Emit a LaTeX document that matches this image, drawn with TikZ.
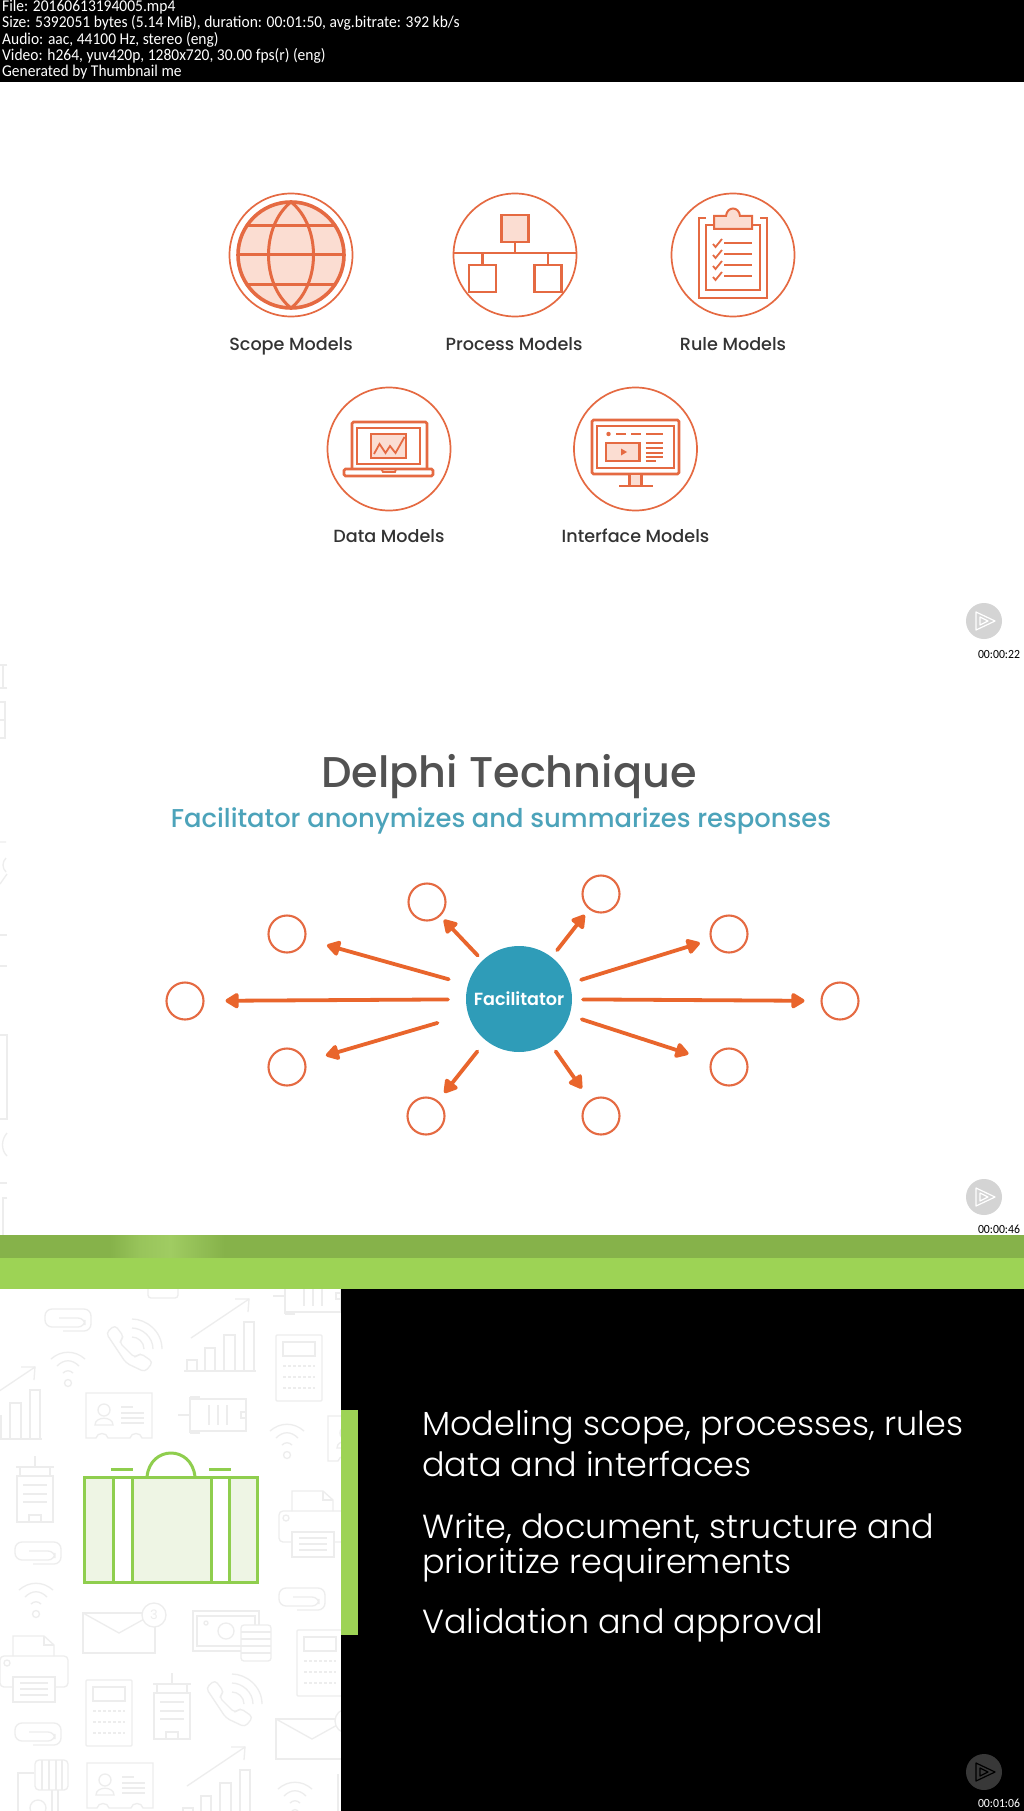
\documentclass[tikz,border=0pt]{standalone}
\usepackage{fontspec}
\usetikzlibrary{arrows.meta,shapes.geometric}
\newfontfamily\gotham{Poppins}
\newfontfamily\gothamM{Poppins Medium}
\newfontfamily\gothamS{Poppins SemiBold}
\newfontfamily\gothamL{Poppins Light}
\newfontfamily\capt{Carlito}[FakeStretch=0.94]
\definecolor{ico}{HTML}{E56A42}
\definecolor{icofill}{HTML}{FBDDD2}
\definecolor{arr}{HTML}{E9652C}
\definecolor{teal}{HTML}{2F9CB8}
\definecolor{sub}{HTML}{4CA3BA}
\definecolor{lgreen}{HTML}{9DD355}
\definecolor{dgreen}{HTML}{86B24A}
\definecolor{hgreen}{HTML}{A0CC62}
\definecolor{sgreen}{HTML}{8FCE4E}
\definecolor{pale}{HTML}{EEF5E4}
\definecolor{faintc}{HTML}{EDEDED}
\tikzset{
  x=1pt,y=-1pt,
  ring/.style={circle,draw=ico,line width=1.7pt,minimum size=123pt,inner sep=0pt,outer sep=0pt},
  small/.style={circle,draw=ico,line width=2.1pt,minimum size=37pt,inner sep=0pt,outer sep=0pt},
  ln/.style={draw=ico,line width=2.6pt},
  ar/.style={draw=arr,line width=3.8pt,line cap=round,-{Triangle[length=15pt,width=17pt,round]}},
  caplab/.style={font=\gothamM\fontsize{17.6}{20}\selectfont,text=black!80,inner sep=0pt,anchor=base},
  metal/.style={font=\capt\fontsize{16.5}{18}\selectfont,text=white,inner sep=0pt,anchor=west},
  body/.style={font=\gothamL\fontsize{33.4}{36}\selectfont,text=white,inner sep=0pt,anchor=base west},
  stamp/.style={font=\capt\fontsize{12.5}{14}\selectfont,text=black,inner sep=0pt,anchor=center},
  faint/.style={draw=faintc,line width=1.3pt},
  sg/.style={draw=sgreen,line width=3pt},
  btn/.style={circle,minimum size=36pt,inner sep=0pt,outer sep=0pt}
}
\newcommand{\iclip}[2]{\begin{scope}[shift={(#1,#2)}]
 \draw[faint,rounded corners=7pt] (-8,-2)--(18,-2)--(18,7)--(-22,7)--(-22,-11)--(24,-11)--(24,11)--(-4,11);
\end{scope}}
\newcommand{\iphone}[2]{\begin{scope}[shift={(#1,#2)}]
 \draw[faint,rounded corners=4pt] (-26,-12)--(-17,-20)--(-8,-8)--(-13,-3)--(3,13)--(8,8)--(21,17)--(13,27)--(-6,18)--cycle;
 \draw[faint] (0,-26) .. controls (14,-26) and (30,-14) .. (30,4);
 \draw[faint] (0,-17) .. controls (10,-17) and (21,-8) .. (21,4);
 \draw[faint] (0,-8) .. controls (6,-8) and (12,-3) .. (12,4);
\end{scope}}
\newcommand{\ichart}[2]{\begin{scope}[shift={(#1,#2)}]
 \draw[faint] (-36,24)--(36,24);
 \draw[faint] (-33,24)--(-33,13)--(-23,13)--(-23,24);
 \draw[faint] (-15,24)--(-15,1)--(-5,1)--(-5,24);
 \draw[faint] (4,24)--(4,-12)--(15,-12)--(15,24);
 \draw[faint] (24,24)--(24,-25)--(34,-25)--(34,24);
 \draw[faint] (-29,-9)--(29,-48);
 \draw[faint] (15,-48)--(29,-48)--(28,-35);
\end{scope}}
\newcommand{\icalc}[2]{\begin{scope}[shift={(#1,#2)}]
 \draw[faint,rounded corners=1pt] (-23,-33) rectangle (23,33);
 \draw[faint] (-16,-26) rectangle (16,-12);
 \draw[faint,densely dashed] (-16,-2)--(16,-2);
 \draw[faint,densely dashed] (-16,9)--(16,9);
 \draw[faint,densely dashed] (-16,20)--(16,20);
\end{scope}}
\newcommand{\iwifi}[2]{\begin{scope}[shift={(#1,#2)}]
 \draw[faint] (-17,-8) .. controls (-7,-17) and (7,-17) .. (17,-8);
 \draw[faint] (-11,-1) .. controls (-4,-8) and (4,-8) .. (11,-1);
 \draw[faint] (-5,6) .. controls (-2,3) and (2,3) .. (5,6);
 \draw[faint] (0,16) circle[radius=3.5pt];
\end{scope}}
\newcommand{\iid}[2]{\begin{scope}[shift={(#1,#2)}]
 \draw[faint] (-33,-23)--(33,-23)--(33,22)--(23,22) .. controls (22,16) and (12,16) .. (11,22)--(-11,22) .. controls (-12,16) and (-22,16) .. (-23,22)--(-33,22)--cycle;
 \draw[faint] (-15,-6) circle[radius=6pt];
 \draw[faint] (-24,9) .. controls (-24,0) and (-6,0) .. (-6,9)--cycle;
 \draw[faint] (2,-9)--(14,-9) (2,-3)--(25,-3) (2,2)--(25,2) (2,7)--(25,7);
\end{scope}}
\newcommand{\ibatt}[2]{\begin{scope}[shift={(#1,#2)}]
 \draw[faint] (-34,0)--(-22,0) (-22,-18)--(-22,18);
 \draw[faint] (-22,-16) rectangle (34,16);
 \draw[faint] (-22,-18)--(-12,-18) (-22,18)--(-12,18);
 \draw[faint] (-3,-10)--(-3,10) (6,-10)--(6,10) (15,-10)--(15,10);
 \draw[faint] (29,-3) rectangle (34,3);
\end{scope}}
\newcommand{\itower}[2]{\begin{scope}[shift={(#1,#2)}]
 \draw[faint] (0,-33)--(0,-22) (-19,-22)--(19,-22);
 \draw[faint] (-15,-22)--(-15,-13) (15,-22)--(15,-13);
 \draw[faint] (-18,-13) rectangle (18,33);
 \draw[faint] (-12,-4)--(12,-4) (-12,5)--(12,5) (-12,13)--(12,13);
 \draw[faint] (-6,33)--(-6,26)--(6,26)--(6,33);
\end{scope}}
\newcommand{\iprinter}[2]{\begin{scope}[shift={(#1,#2)}]
 \draw[faint] (-21,-13)--(-21,-33)--(10,-33)--(20,-24)--(20,-13);
 \draw[faint] (10,-33)--(10,-24)--(20,-24);
 \draw[faint,rounded corners=4pt] (-21,18)--(-34,18)--(-34,-13)--(34,-13)--(34,18)--(21,18);
 \draw[faint,fill=white] (-21,8) rectangle (21,33);
 \draw[faint] (-14,14)--(14,14) (-14,20)--(14,20) (-14,26)--(14,26);
 \draw[faint] (-27,-6) circle[radius=3pt];
\end{scope}}
\newcommand{\ienv}[3]{\begin{scope}[shift={(#1,#2)}]
 \draw[faint] (-36,-20) rectangle (36,20);
 \draw[faint] (-36,-20)--(0,0)--(36,-20);
 \draw[faint,fill=white] (35,-18) circle[radius=12pt];
 \node[font=\gotham\fontsize{13}{13}\selectfont,text=faintc,inner sep=0pt] (#3) at (35,-18) {3};
\end{scope}}
\newcommand{\imoney}[2]{\begin{scope}[shift={(#1,#2)}]
 \draw[faint] (-33,-20) rectangle (33,20);
 \draw[faint] (-29,-15) rectangle (29,15);
 \draw[faint] (0,0) circle[radius=8pt];
 \draw[faint] (-20,-8) circle[radius=2pt];
 \draw[faint,fill=white,rounded corners=3pt] (15,-6) rectangle (45,30);
 \draw[faint] (15,1)--(45,1) (15,8)--(45,8) (15,15)--(45,15) (15,22)--(45,22);
\end{scope}}
\newcommand{\iplay}[3]{\begin{scope}[shift={(#1,#2)}]
 \draw[#3,line width=1.2pt,line join=round] (-7,-9)--(12,0)--(-7,9)--cycle;
 \draw[#3,line width=1.2pt,line join=round] (-3,-4)--(5,0)--(-3,4)--cycle;
\end{scope}}
\begin{document}
\begin{tikzpicture}
\useasboundingbox (0,0) rectangle (1024,1811);
\fill[white] (0,0) rectangle (1024,1811);
% header
\fill[black] (0,0) rectangle (1024,82);
\node[metal] (m1) at (2,7) {File: 20160613194005.mp4};
\node[metal] (m2) at (2,23) {Size: 5392051 bytes (5.14 MiB), duration: 00:01:50, avg.bitrate: 392 kb/s};
\node[metal] (m3) at (2,40) {Audio: aac, 44100 Hz, stereo (eng)};
\node[metal] (m4) at (2,56) {Video: h264, yuv420p, 1280x720, 30.00 fps(r) (eng)};
\node[metal] (m5) at (2,72) {Generated by Thumbnail me};
% model icons
\node[ring] (r1) at (291,255) {};
\node[ring] (r2) at (515,255) {};
\node[ring] (r3) at (733,255) {};
\node[ring] (r4) at (389,449) {};
\node[ring] (r5) at (635.5,449) {};
% globe
\draw[ln,line width=3.6pt,fill=icofill] (291,255) circle[radius=53pt];
\draw[ln,line width=3pt] (291,202) .. controls (261,226) and (261,284) .. (291,308) .. controls (321,284) and (321,226) .. (291,202);
\draw[ln,line width=3pt] (247,226)--(335,226) (238,255)--(344,255) (247,284)--(335,284);
% process
\draw[ln,fill=icofill] (501.5,215) rectangle (528.5,242);
\draw[ln] (453.5,253)--(576.5,253) (515,242)--(515,253) (482.5,253)--(482.5,265) (548,253)--(548,265);
\draw[ln] (469,265) rectangle (496,292);
\draw[ln] (534.5,265) rectangle (561.5,292);
% rule
\begin{scope}[shift={(-2,1)}]
\draw[ln,line width=2pt] (708,217)--(701,217)--(701,297)--(769,297)--(769,217)--(762,217);
\draw[ln,line width=2pt] (716,224)--(708,224)--(708,289)--(762,289)--(762,224)--(754,224);
\draw[ln,line width=2pt,fill=icofill] (716,228)--(716,215)--(728,215) .. controls (729,205) and (741,205) .. (742,215)--(754,215)--(754,228)--cycle;
\foreach \yy in {242,253,264,275}{
  \draw[ln,line width=1.8pt] (726,\yy)--(754,\yy);
  \draw[ln,line width=1.8pt] (715,\yy+1)--(717.5,\yy+4)--(724,\yy-4);
}
\end{scope}
% data
\begin{scope}[shift={(-1,1)}]
\draw[ln,rounded corners=1.5pt] (353,468)--(353,421)--(428,421)--(428,468);
\draw[ln,line width=1.9pt] (358,427) rectangle (421,463);
\draw[ln,rounded corners=1.5pt] (345,468) rectangle (434,475);
\draw[ln,line width=1.8pt] (382.5,468)--(384,471)--(396,471)--(397,468);
\draw[ln,fill=icofill] (372,433) rectangle (407,457);
\draw[ln,line width=1.8pt] (375,453)--(380.5,443)--(386.5,452)--(391,445)--(396.5,452)--(405.5,436);
\end{scope}
% interface
\begin{scope}[shift={(-1,1)}]
\draw[ln,rounded corners=1.5pt] (593,419) rectangle (680,473);
\draw[ln,line width=1.9pt] (598,425) rectangle (675,467);
\fill[ico] (609.5,433) circle[radius=2.2pt];
\draw[ln,line width=1.8pt] (617,433)--(627,433) (632,433)--(642,433) (647,433)--(664,433);
\draw[ln,fill=icofill] (607,442) rectangle (640.5,460);
\fill[ico] (622,447.5)--(628,451)--(622,454.5)--cycle;
\draw[ln,line width=1.7pt] (646.5,442)--(664,442) (646.5,447)--(664,447) (646.5,452)--(664,452) (646.5,456)--(664,456) (646.5,460)--(657,460);
\draw[ln,fill=icofill] (630.5,473) rectangle (642.5,485);
\draw[ln] (620,485)--(654,485);
\end{scope}
% labels
\node[caplab] (l1) at (291,350) {Scope Models};
\node[caplab] (l2) at (514,350) {Process Models};
\node[caplab] (l3) at (733,350) {Rule Models};
\node[caplab] (l4) at (389,542) {Data Models};
\node[caplab] (l5) at (635.5,542) {Interface Models};
% play 1
\node[btn,fill=black!17] (p1) at (984,621) {};
\iplay{983}{621}{white}
\node[stamp] (t1) at (999,654) {00:00:22};
% faint stubs of panel 2
\draw[faint] (7,665)--(0,665) (3,665)--(3,688) (7,688)--(0,688);
\draw[faint] (0,702)--(5,702)--(5,738)--(0,738) (0,720)--(5,720);
\draw[faint] (0,842)--(6,842) (6,858) .. controls (2,862) and (2,868) .. (6,872) (0,884)--(7,874);
\draw[faint] (0,935)--(7,935) (0,966)--(7,966);
\draw[faint] (0,1035)--(7,1035)--(7,1119)--(0,1119);
\draw[faint] (7,1133) .. controls (1,1140) and (1,1150) .. (7,1156);
\draw[faint] (0,1183)--(7,1183);
\draw[faint] (7,1198)--(3,1198)--(3,1235);
% delphi
\node[font=\gothamM\fontsize{43}{46}\selectfont,text=black!68,inner sep=0pt] (dt) at (509,777) {Delphi Technique};
\node[font=\gothamM\fontsize{25.8}{28}\selectfont,text=sub,inner sep=0pt] (ds) at (501,821) {Facilitator anonymizes and summarizes responses};
\node[circle,fill=teal,minimum size=106pt,inner sep=0pt,outer sep=0pt,text=white,font=\gothamS\fontsize{17.6}{20}\selectfont] (fac) at (519,999) {Facilitator};
\node[small] (c1) at (427,902) {};
\node[small] (c2) at (601,894) {};
\node[small] (c3) at (287,934) {};
\node[small] (c4) at (729,934) {};
\node[small] (c5) at (185,1001) {};
\node[small] (c6) at (840,1001) {};
\node[small] (c7) at (287,1067) {};
\node[small] (c8) at (729,1067) {};
\node[small] (c9) at (426,1116) {};
\node[small] (c10) at (601,1116) {};
\draw[ar,shorten <=7pt,shorten >=6pt] (fac)--(c1);
\draw[ar,shorten <=9pt,shorten >=8pt] (fac)--(c2);
\draw[ar,shorten <=20pt,shorten >=23pt] (fac)--(c3);
\draw[ar,shorten <=12pt,shorten >=12pt] (fac)--(c4);
\draw[ar,shorten <=18pt,shorten >=22pt] (fac)--(c5);
\draw[ar,shorten <=11pt,shorten >=17pt] (fac)--(c6);
\draw[ar,shorten <=32pt,shorten >=22pt] (fac)--(c7);
\draw[ar,shorten <=13pt,shorten >=24pt] (fac)--(c8);
\draw[ar,shorten <=14pt,shorten >=11pt] (fac)--(c9);
\draw[ar,shorten <=11pt,shorten >=15pt] (fac)--(c10);
\node[btn,fill=black!17] (p2) at (984,1197) {};
\iplay{983}{1197}{white}
\node[stamp] (t2) at (999,1229) {00:00:46};
% green band
\fill[dgreen] (0,1235) rectangle (1024,1258);
\shade[left color=dgreen,right color=hgreen,middle color=hgreen!70!dgreen] (110,1235) rectangle (170,1258);
\shade[left color=hgreen,right color=dgreen] (170,1235) rectangle (225,1258);
\fill[lgreen] (0,1258) rectangle (1024,1289);
% left panel icons
\begin{scope}
\clip (0,1289) rectangle (341,1811);
\iclip{67}{1320}\iclip{37}{1553}\iclip{301}{1599}\iclip{37}{1734}
\iphone{132}{1345}\iphone{232}{1700}
\ichart{220}{1347}\ichart{6}{1415}\ichart{216}{1795}
\icalc{299}{1368}\icalc{320}{1663}\icalc{109}{1713}
\iwifi{68}{1367}\iwifi{287}{1439}\iwifi{36}{1598}\iwifi{295}{1797}
\iid{119}{1416}\iid{120}{1786}\iid{361}{1439}
\ibatt{212}{1415}\ibatt{307}{1296}
\itower{35}{1489}\itower{172}{1706}
\iprinter{313}{1524}\iprinter{34}{1669}
\ienv{119}{1633}{e1}\ienv{312}{1739}{e2}
\imoney{226}{1631}
\draw[faint,fill=white,rounded corners=3pt] (148,1280) rectangle (178,1298);
% coil
\draw[faint,rounded corners=4pt] (35,1760) rectangle (68,1790);
\draw[faint] (42,1760)--(42,1790) (49,1760)--(49,1790) (56,1760)--(56,1790) (62,1760)--(62,1790);
\draw[faint] (34,1773)--(18,1773)--(18,1811);
\draw[faint] (38,1808) circle[radius=8pt];
\draw[faint] (52,1790)--(52,1811) (58,1790)--(58,1811);
\draw[faint] (338,1774)--(338,1811);
\end{scope}
% suitcase
\draw[sg] (147,1477) .. controls (150,1445) and (192,1445) .. (195,1477);
\draw[sg] (111,1469)--(133,1469) (209,1469)--(231,1469);
\draw[sg,fill=pale] (84.5,1477) rectangle (257.5,1582);
\draw[sg,fill=white] (113,1477) rectangle (132,1582);
\draw[sg,fill=white] (211,1477) rectangle (229,1582);
% right panel
\fill[black] (341,1289) rectangle (1024,1811);
\fill[lgreen] (341,1410) rectangle (358,1635);
\node[body] (b1) at (422,1435) {Modeling scope, processes, rules};
\node[body] (b2) at (422,1476) {data and interfaces};
\node[body] (b3) at (422,1538) {Write, document, structure and};
\node[body] (b4) at (422,1573) {prioritize requirements};
\node[body] (b5) at (422,1633) {Validation and approval};
\node[btn,fill=black!78] (p3) at (984,1772) {};
\iplay{983}{1772}{black}
\node[stamp,text=white] (t3) at (999,1803) {00:01:06};
\end{tikzpicture}
\end{document}
